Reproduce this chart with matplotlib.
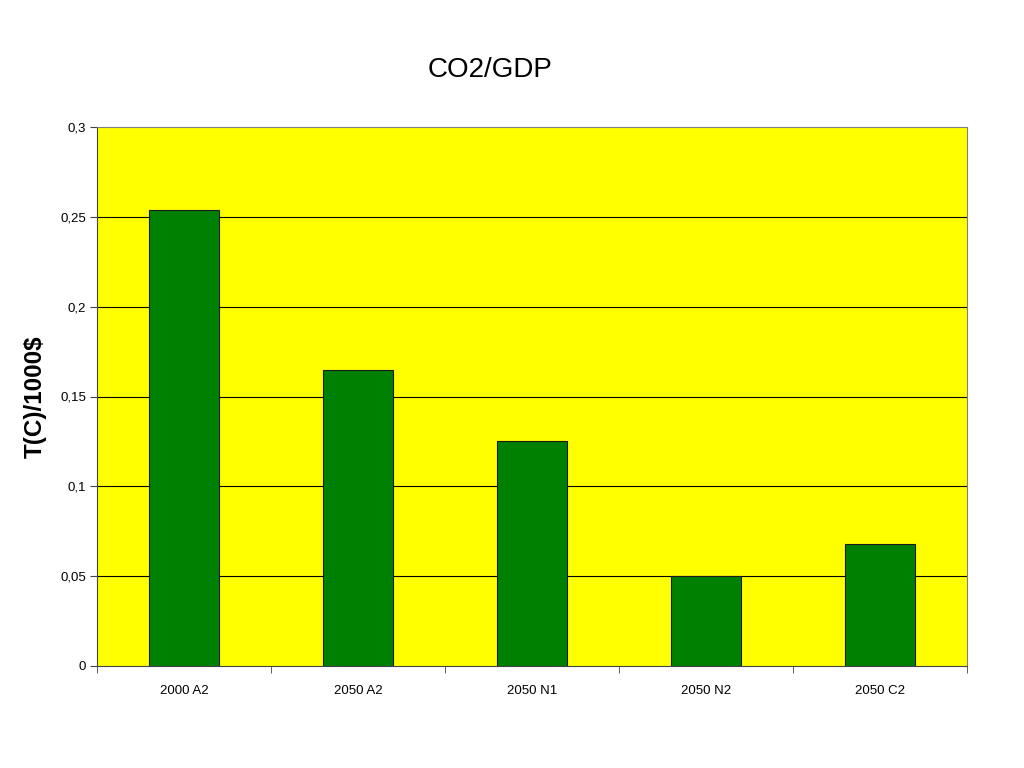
import numpy as np
import matplotlib.pyplot as plt
from matplotlib.ticker import FixedLocator, NullFormatter

plt.rcParams['font.family'] = ['Liberation Sans', 'DejaVu Sans']

categories = ['2000 A2', '2050 A2', '2050 N1', '2050 N2', '2050 C2']
values = [0.254, 0.165, 0.125, 0.050, 0.068]
yticks = [0, 0.05, 0.1, 0.15, 0.2, 0.25, 0.3]
ytick_labels = ['0', '0,05', '0,1', '0,15', '0,2', '0,25', '0,3']

fig = plt.figure(figsize=(10.24, 7.68), dpi=100)
ax = fig.add_axes([97/1024, 102/768, 870/1024, 539/768])
ax.set_facecolor('#FFFF00')

x = np.arange(len(categories))
ax.bar(x, values, width=0.4, color='#008000', edgecolor='#1a1a1a', linewidth=0.8, zorder=3)

ax.set_xlim(-0.5, len(categories) - 0.5)
ax.set_ylim(0, 0.3)
ax.set_yticks(yticks)
ax.set_yticklabels(ytick_labels, fontsize=9.5)
for yv in yticks[1:-1]:
    ax.axhline(yv, color='#000000', lw=0.8, zorder=1)

ax.set_xticks(x)
ax.set_xticklabels(categories, fontsize=9.5)
ax.tick_params(axis='x', which='major', length=0, pad=14)
ax.xaxis.set_minor_locator(FixedLocator(np.arange(-0.5, len(categories), 1.0)))
ax.xaxis.set_minor_formatter(NullFormatter())
ax.tick_params(axis='x', which='minor', length=5, direction='out', color='#444444')
ax.tick_params(axis='y', length=5, direction='out', color='#444444', pad=3)

for side in ['top', 'right']:
    ax.spines[side].set_color('#808080')
for side in ['left', 'bottom']:
    ax.spines[side].set_color('#444444')
for s in ax.spines.values():
    s.set_linewidth(0.8)

fig.text(490/1024, 1 - 70/768, 'CO2/GDP', ha='center', va='center', fontsize=20)
ax.set_ylabel('T(C)/1000$', fontsize=17.5, fontweight='bold')
ax.yaxis.set_label_coords(-50/870, 0.5)

fig.savefig('out.png', dpi=100)
